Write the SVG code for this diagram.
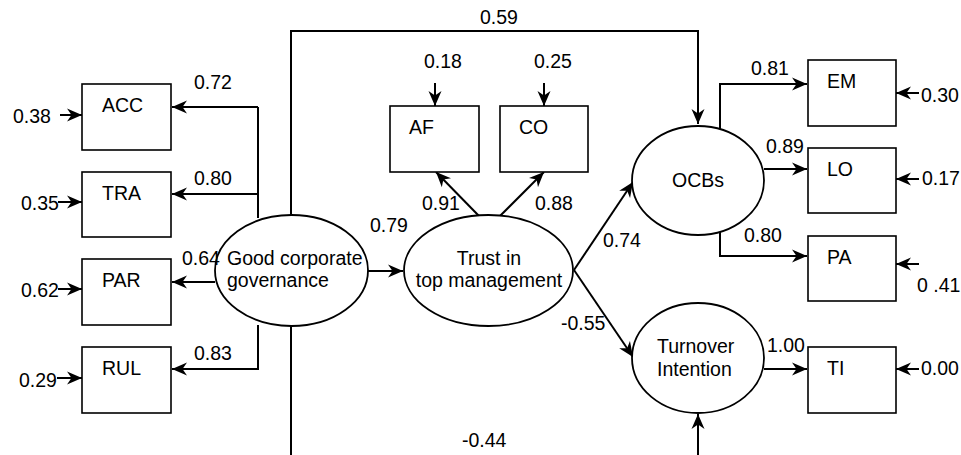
<svg xmlns="http://www.w3.org/2000/svg" width="961" height="455" viewBox="0 0 961 455">
<style>
text{font-family:"Liberation Sans",Arial,sans-serif;font-size:19.5px;fill:#000}
.box{fill:#fff;stroke:#000;stroke-width:1.6}
.ell{fill:#fff;stroke:#000;stroke-width:1.8}
.c{fill:none;stroke:#000;stroke-width:2}
.a{marker-end:url(#ah)}
</style>
<defs>
<marker id="ah" markerUnits="userSpaceOnUse" markerWidth="16" markerHeight="14" refX="15" refY="7" orient="auto">
<path d="M0,0.5 L15,7 L0,13.5 L4.5,7 z" fill="#000"/>
</marker>
</defs>
<rect width="961" height="455" fill="#fff"/>
<g id="connectors">
<path class="c a" d="M291,215 V31 H698 V124"/>
<path class="c" d="M291,326 V455"/>
<path class="c a" d="M698,455 V414"/>
<path class="c" d="M258,218 V107"/>
<path class="c a" d="M258,107 H172"/>
<path class="c a" d="M258,194 H172"/>
<path class="c a" d="M215,282 H172"/>
<path class="c a" d="M258,325 V369 H172"/>
<path class="c a" d="M368,271 H403"/>
<path class="c a" d="M479,216 L436,172"/>
<path class="c a" d="M500,216 L544,172"/>
<path class="c a" d="M574,270 L633,182"/>
<path class="c a" d="M574,270 L633,357"/>
<path class="c a" d="M720,129 V84 H807"/>
<path class="c a" d="M764,169 H807"/>
<path class="c a" d="M720,232 V256 H807"/>
<path class="c a" d="M764,369 H807"/>
<path class="c a" d="M60,115 H82"/>
<path class="c a" d="M58,202 H82"/>
<path class="c a" d="M58,289 H82"/>
<path class="c a" d="M57,378 H82"/>
<path class="c a" d="M435,83 V106"/>
<path class="c a" d="M544,83 V106"/>
<path class="c a" d="M919,93 H896"/>
<path class="c a" d="M919,179 H896"/>
<path class="c a" d="M919,264 H896"/>
<path class="c a" d="M919,369 H896"/>
</g>
<g id="ACC"><rect class="box" x="82" y="84" width="89" height="66"/><text x="102" y="112">ACC</text></g>
<g id="TRA"><rect class="box" x="82" y="172" width="89" height="65"/><text x="102" y="200">TRA</text></g>
<g id="PAR"><rect class="box" x="82" y="259" width="89" height="66"/><text x="102" y="287">PAR</text></g>
<g id="RUL"><rect class="box" x="82" y="347" width="89" height="66"/><text x="102" y="375">RUL</text></g>
<g id="AF"><rect class="box" x="390" y="106" width="89" height="66"/><text x="409" y="134">AF</text></g>
<g id="CO"><rect class="box" x="500" y="106" width="88" height="66"/><text x="519" y="134">CO</text></g>
<g id="EM"><rect class="box" x="808" y="60" width="88" height="66"/><text x="827" y="88">EM</text></g>
<g id="LO"><rect class="box" x="808" y="148" width="88" height="65"/><text x="827" y="176">LO</text></g>
<g id="PA"><rect class="box" x="808" y="236" width="88" height="65"/><text x="827" y="264">PA</text></g>
<g id="TI"><rect class="box" x="808" y="347" width="88" height="66"/><text x="827" y="375">TI</text></g>
<g id="GCG"><ellipse class="ell" cx="291.5" cy="270.5" rx="76.5" ry="55.5"/><text x="227" y="265">Good corporate</text><text x="227" y="287">governance</text></g>
<g id="TTM"><ellipse class="ell" cx="488.5" cy="270.5" rx="84.5" ry="55.5"/><text x="489" y="265" text-anchor="middle">Trust in</text><text x="489" y="287" text-anchor="middle">top management</text></g>
<g id="OCBs"><ellipse class="ell" cx="698" cy="180.5" rx="66" ry="54.5"/><text x="698" y="187" text-anchor="middle">OCBs</text></g>
<g id="TurnoverIntention"><ellipse class="ell" cx="698" cy="358" rx="66" ry="55"/><text x="657" y="353">Turnover</text><text x="657" y="376">Intention</text></g>
<g id="labels">
<text x="480" y="24">0.59</text>
<text x="194" y="89">0.72</text>
<text x="194" y="185">0.80</text>
<text x="182" y="265">0.64</text>
<text x="194" y="360">0.83</text>
<text x="13" y="123">0.38</text>
<text x="21" y="210">0.35</text>
<text x="21" y="297">0.62</text>
<text x="19" y="387">0.29</text>
<text x="424" y="68">0.18</text>
<text x="534" y="68">0.25</text>
<text x="370" y="232">0.79</text>
<text x="422" y="210">0.91</text>
<text x="535" y="210">0.88</text>
<text x="603" y="247">0.74</text>
<text x="561" y="330">-0.55</text>
<text x="462" y="447">-0.44</text>
<text x="751" y="75">0.81</text>
<text x="766" y="153">0.89</text>
<text x="744" y="242">0.80</text>
<text x="767" y="352">1.00</text>
<text x="921" y="102">0.30</text>
<text x="922" y="185">0.17</text>
<text x="917" y="292">0 .41</text>
<text x="921" y="375">0.00</text>
</g>
</svg>
